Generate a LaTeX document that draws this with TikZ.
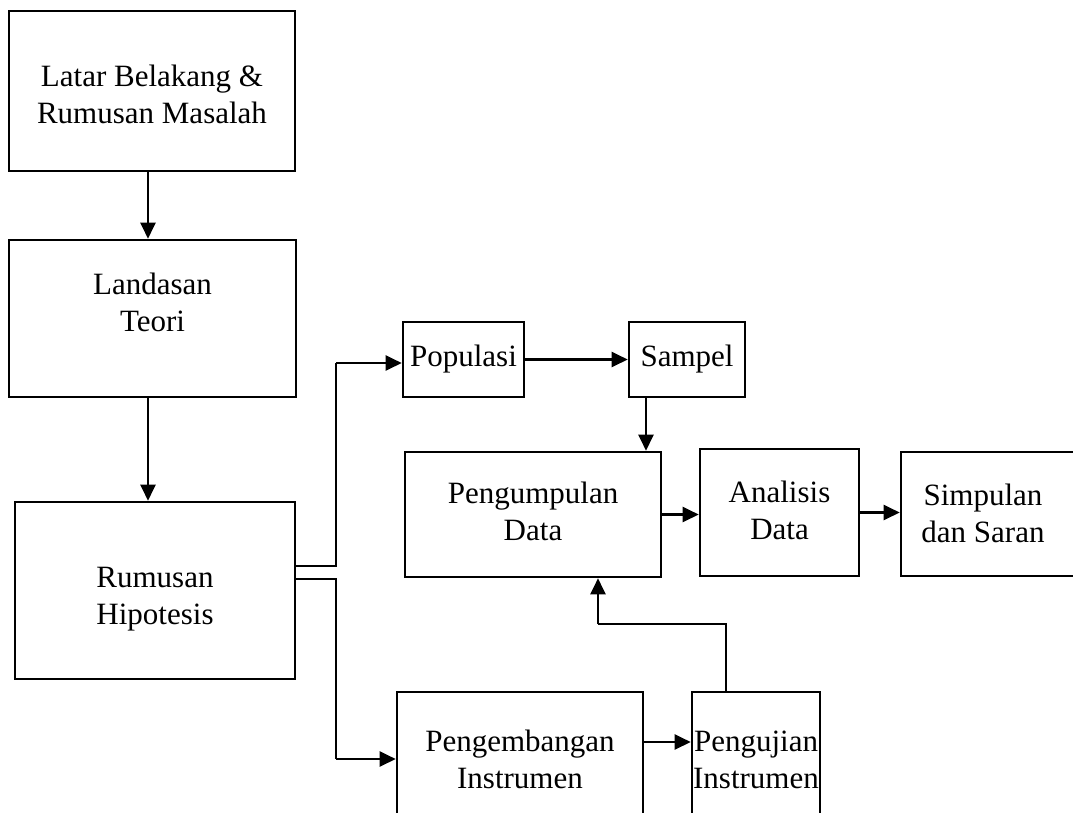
\documentclass[tikz,border=0pt]{standalone}
\usepackage{fontspec}
\setmainfont{Liberation Serif}
\usetikzlibrary{arrows.meta,calc}
\newcommand\txt[2]{\raisebox{#1}[\height][\depth]{\begin{tabular}{@{}c@{}}#2\end{tabular}}}
\tikzset{
  box/.style={draw=black, line width=2.6pt, rectangle, align=center, inner sep=0pt,
    font=\fontsize{31}{37}\selectfont},
  arr/.style={draw=black, line width=2.2pt, -{Triangle[length=16pt,width=15pt]}},
  thin/.style={draw=black, line width=1.3pt}
}
\begin{document}
\begin{tikzpicture}[x=1pt,y=-1pt]
\useasboundingbox (0,0) rectangle (1073,812);
\clip (0,0) rectangle (1073,812);
% boxes
\node[box, minimum width=286pt, minimum height=160pt] (lb) at (152,91) {\txt{-7pt}{Latar Belakang \&\\Rumusan Masalah}};
\node[box, minimum width=287pt, minimum height=157pt] (lt) at (152.5,318.5) {\txt{13pt}{Landasan\\Teori}};
\node[box, minimum width=280pt, minimum height=177pt] (rh) at (155,590.5) {\txt{-8pt}{Rumusan\\Hipotesis}};
\node[box, minimum width=121pt, minimum height=75pt] (pop) at (463.5,359.5) {Populasi};
\node[box, minimum width=116pt, minimum height=75pt] (sam) at (687,359.5) {Sampel};
\node[box, minimum width=256pt, minimum height=125pt] (pk) at (533,514.5) {\txt{0pt}{Pengumpulan\\Data}};
\node[box, minimum width=159pt, minimum height=127pt] (an) at (779.5,512.5) {\txt{-1pt}{Analisis\\Data}};
\node[box, minimum width=184pt, minimum height=124pt] (sp) at (993,514) {\txt{-3pt}{Simpulan\\dan Saran}\hspace*{20pt}};
\node[box, minimum width=246pt, minimum height=148pt] (pb) at (520,766) {\txt{3pt}{Pengembangan\\Instrumen}};
\node[box, minimum width=128pt, minimum height=148pt] (pj) at (756,766) {\txt{3pt}{Pengujian\\Instrumen}};
% helper coordinates
\coordinate (xa) at (148,0);
\coordinate (xs) at (646,0);
\coordinate (ya) at (0,566);
\coordinate (yb) at (0,579);
\coordinate (ka) at (336,363);
\coordinate (kb) at (336,759);
\coordinate (yp) at (0,742);
\coordinate (ju) at (726,624);
\coordinate (jk) at (598,624);
% connectors
\draw[arr] (lb.south -| xa) -- (lt.north -| xa);
\draw[arr] (lt.south -| xa) -- (rh.north -| xa);
\draw[thin] (rh.east |- ya) -| (ka);
\draw[arr] (ka) -- (pop.west |- ka);
\draw[thin] (rh.east |- yb) -| (kb);
\draw[arr] (kb) -- (pb.west |- kb);
\draw[arr] (pop.east) -- (sam.west);
\draw[arr] (sam.south -| xs) -- (pk.north -| xs);
\draw[arr] (pk.east) -- (pk.east -| an.west);
\draw[arr] (an.east) -- (an.east -| sp.west);
\draw[arr] (pb.east |- yp) -- (pj.west |- yp);
\draw[thin] (pj.north -| ju) -- (ju) -- (jk);
\draw[arr] (jk) -- (pk.south -| jk);
\end{tikzpicture}
\end{document}
